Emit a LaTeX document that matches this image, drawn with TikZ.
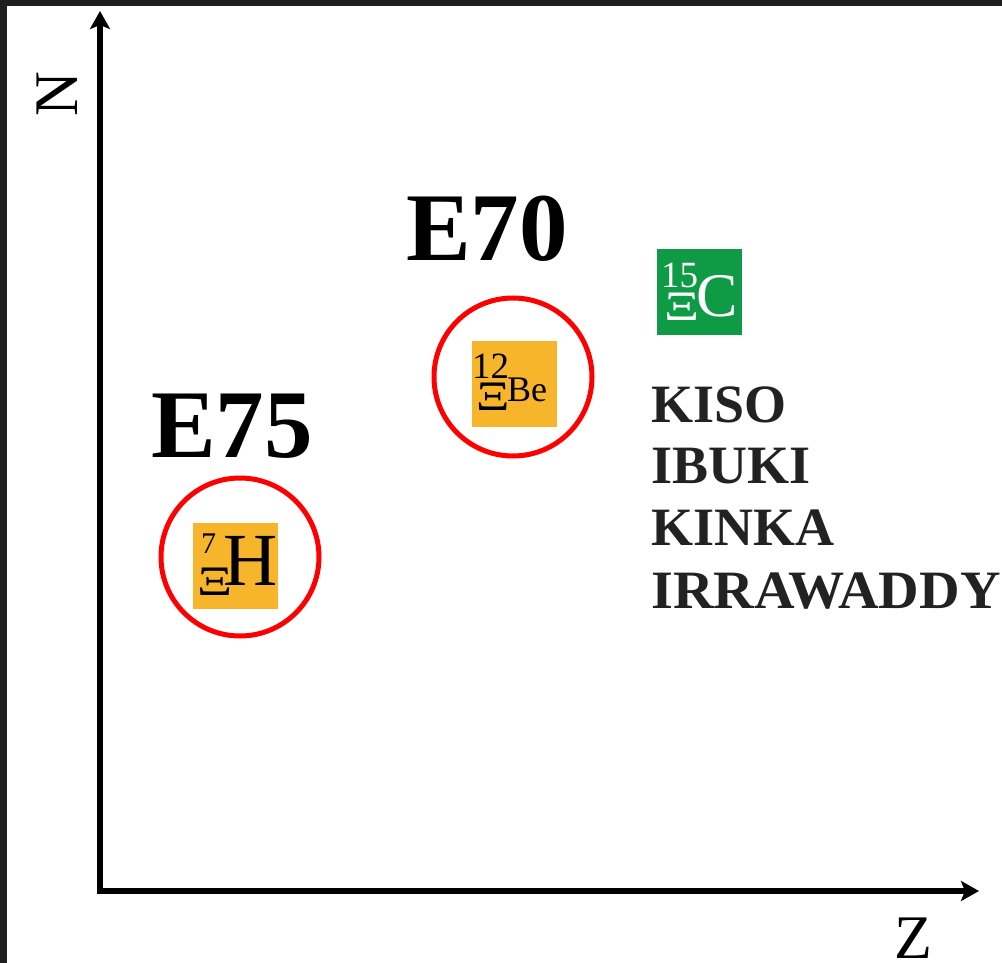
\documentclass[tikz,border=0pt]{standalone}
\usepackage{fontspec}
\setmainfont{Liberation Serif}
\usetikzlibrary{arrows.meta}
\definecolor{frame}{HTML}{1F1F1F}
\definecolor{ambox}{HTML}{F7B52C}
\definecolor{grbox}{HTML}{0F9A45}
\definecolor{expred}{HTML}{FF0000}
\definecolor{evtext}{HTML}{222222}
\tikzset{
  axis/.style={line width=6pt, arrows={Stealth[length=18pt,width=20pt,inset=4pt]-Stealth[length=18pt,width=20pt,inset=4pt]}},
  lbl/.style={inner sep=0pt, font=\fontsize{62}{62}\selectfont},
  expname/.style={inner sep=0pt, anchor=base west, font=\fontsize{97}{97}\selectfont\bfseries},
  evname/.style={inner sep=0pt, anchor=base west, text=evtext, font=\fontsize{54}{54}\selectfont\bfseries},
  expring/.style={draw=expred, line width=5pt, circle, minimum size=158pt, inner sep=0pt},
  nucbox/.style={inner sep=0pt, minimum width=85pt, minimum height=86pt},
  glyph/.style={inner sep=0pt, anchor=base west},
  xiglyph/.style={inner sep=0pt, anchor=base west, xscale=1.3, font=\fontsize{42}{42}\selectfont},
}
\begin{document}
\begin{tikzpicture}[x=1pt,y=-1pt]
\useasboundingbox (0,0) rectangle (1002,963);
\fill[white] (0,0) rectangle (1002,963);
\fill[frame] (0,0) rectangle (1002,6);
\fill[frame] (0,0) rectangle (7,963);

% axes
\coordinate (O) at (100,891);
\coordinate (ytip) at (100,11);
\coordinate (xtip) at (979,891);
\draw[axis] (ytip) -- (O) -- (xtip);
\node[lbl, rotate=90] (nlab) at (57,94) {N};
\node[lbl] (zlab) at (913,938) {Z};

% experiment labels
\node[expname] (e70) at (406,260) {E70};
\node[expname] (e75) at (151,457) {E75};

% rings
\node[expring] (ring75) at (240,557) {};
\node[expring] (ring70) at (513,377) {};

% 7H box
\node[nucbox, fill=ambox] (box7h) at (235.5,566) {};
\node[glyph, font=\fontsize{30}{30}\selectfont] (m7) at (201,553) {7};
\node[xiglyph] (x7) at (197,595) {Ξ};
\node[glyph, font=\fontsize{75}{75}\selectfont] (h7) at (223,585) {H};

% 12Be box
\node[nucbox, fill=ambox] (box12be) at (514,383.5) {};
\node[glyph, font=\fontsize{37}{37}\selectfont] (m12) at (472,378) {12};
\node[xiglyph, xscale=0.95] (x12) at (476,410) {Ξ};
\node[glyph, font=\fontsize{36}{36}\selectfont] (be12) at (507,401) {Be};

% 15C box
\node[nucbox, fill=grbox] (box15c) at (699.5,291.5) {};
\node[glyph, text=white, font=\fontsize{37}{37}\selectfont] (m15) at (661,287) {15};
\node[xiglyph, text=white] (x15) at (664,320) {Ξ};
\node[glyph, text=white, font=\fontsize{62}{62}\selectfont] (c15) at (696,316) {C};

% events
\node[evname] (kiso) at (651,422) {KISO};
\node[evname] (ibuki) at (651,483) {IBUKI};
\node[evname] (kinka) at (651,545) {KINKA};
\node[evname, xscale=1.04] (irra) at (651,608) {IRRAWADDY};
\end{tikzpicture}
\end{document}
